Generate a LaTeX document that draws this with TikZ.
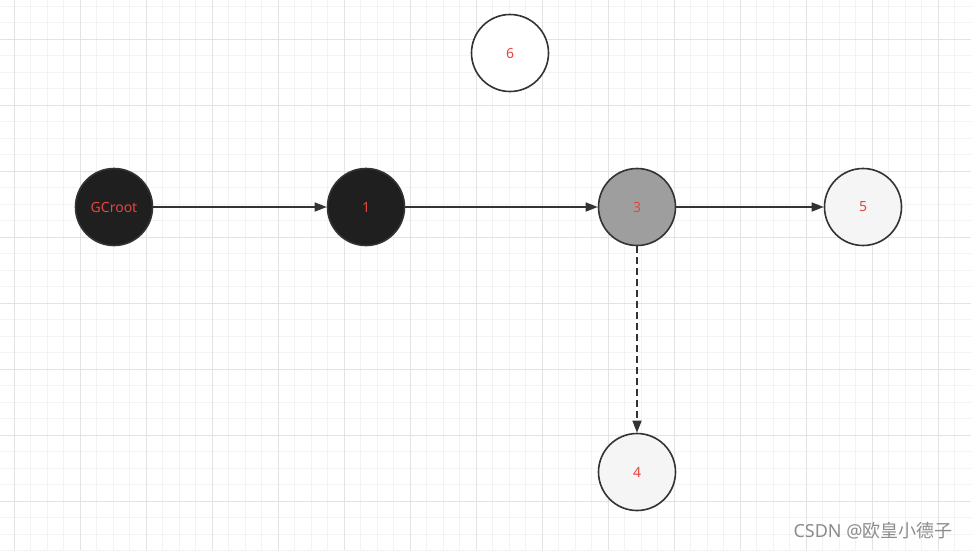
\documentclass[tikz,border=0pt]{standalone}
\usepackage{fontspec}
\setmainfont{Noto Sans}
\newfontfamily\cjkfont{Noto Sans CJK SC}
\usepackage{tikz}
\usetikzlibrary{arrows.meta,positioning}
\definecolor{gridminor}{HTML}{F3F3F3}
\definecolor{gridmajor}{HTML}{E3E3E3}
\definecolor{edgecol}{HTML}{333333}
\definecolor{labelred}{HTML}{E8453C}
\definecolor{blackfill}{HTML}{1F1F1F}
\definecolor{grayfill}{HTML}{9E9E9E}
\definecolor{whitefill}{HTML}{F5F5F5}
\tikzset{
  obj/.style={circle, draw=edgecol, line width=1.6pt, minimum size=77pt, inner sep=0pt,
    font=\fontsize{14}{16}\selectfont, text=labelred},
  blackobj/.style={obj, fill=blackfill},
  grayobj/.style={obj, fill=grayfill},
  whiteobj/.style={obj, fill=whitefill},
  freeobj/.style={obj, fill=white},
  ref/.style={-{Triangle[length=12pt, width=9pt]}, line width=1.4pt, draw=edgecol},
  mayref/.style={ref, dash pattern=on 7pt off 4pt}}

\begin{document}
\begin{tikzpicture}[x=1pt, y=-1pt]
  \useasboundingbox (0,0) rectangle (971,550);
  \fill[white] (0,0) rectangle (971,550);
  % grid
  \foreach \i in {0,...,59} {
    \draw[gridminor, line width=1pt] ({-2.5+16.5*\i},0) -- ({-2.5+16.5*\i},550);
    \draw[gridminor, line width=1pt] (0,{6+16.5*\i}) -- (971,{6+16.5*\i});}
  \foreach \i in {0,...,14} {
    \draw[gridmajor, line width=1pt] ({14+66*\i},0) -- ({14+66*\i},550);
    \draw[gridmajor, line width=1pt] (0,{-27+66*\i}) -- (971,{-27+66*\i});}
  % objects
  \node[blackobj] (gc) at (114,207) {GCroot};
  \node[blackobj] (n1) at (366,207) {1};
  \node[grayobj] (n3) at (637,207) {3};
  \node[whiteobj] (n5) at (863,207) {5};
  \node[freeobj] (n6) at (510,53) {6};
  \node[whiteobj] (n4) at (637,472) {4};
  \draw[ref] (gc) -- (n1);
  \draw[ref] (n1) -- (n3);
  \draw[ref] (n3) -- (n5);
  \draw[mayref] (n3) -- (n4);
  \node[text=black!45, font=\fontsize{18}{21}\selectfont, anchor=east] (mark) at (956,531) {CSDN @{\cjkfont 欧皇小德子}};
\end{tikzpicture}
\end{document}
